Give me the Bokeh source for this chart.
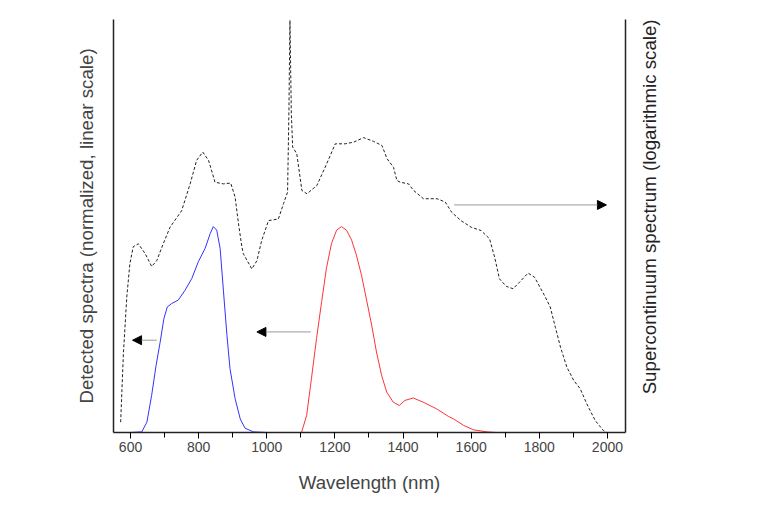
import math
from bokeh.plotting import figure
from bokeh.layouts import row
from bokeh.models import (Range1d, LinearAxis, SingleIntervalTicker, FixedTicker, Arrow,
                          NormalHead, Label)
from bokeh.embed import file_html
from bokeh.resources import INLINE

# Detected spectra (normalized, linear)
wl_blue = [600, 633, 648, 662, 675, 687, 698, 708, 721, 740, 760, 780, 799, 819, 834, 843,
           853, 863, 873, 883, 892, 907, 922, 936, 961, 1000]
val_blue = [0, 0.003, 0.05, 0.18, 0.325, 0.438, 0.552, 0.608, 0.625, 0.641, 0.689, 0.746,
            0.827, 0.892, 0.964, 0.997, 0.98, 0.892, 0.681, 0.471, 0.309, 0.164, 0.066,
            0.021, 0.003, 0]

wl_red = [1070, 1102, 1117, 1131, 1146, 1161, 1175, 1190, 1205, 1219, 1234, 1249, 1263,
          1278, 1293, 1308, 1322, 1337, 1352, 1371, 1389, 1405, 1430, 1459, 1498, 1533,
          1548, 1578, 1607, 1646, 1675, 1790]
val_red = [0, 0, 0.083, 0.26, 0.455, 0.633, 0.795, 0.916, 0.98, 0.997, 0.98, 0.932, 0.859,
           0.762, 0.641, 0.519, 0.39, 0.277, 0.196, 0.147, 0.131, 0.155, 0.167, 0.147,
           0.115, 0.078, 0.066, 0.034, 0.013, 0.003, 0, 0]

# Supercontinuum spectrum (relative level, log scale display)
wl_sc = [571, 579, 589, 598, 608, 623, 643, 662, 677, 696, 716, 750, 775, 794, 812, 829,
         848, 873, 894, 907, 917, 927, 931, 956, 971, 985, 1005, 1034, 1049, 1061, 1065,
         1068, 1072, 1076, 1088, 1103, 1118, 1147, 1176, 1201, 1230, 1255, 1284, 1313,
         1338, 1353, 1372, 1382, 1392, 1416, 1431, 1460, 1500, 1524, 1543, 1570, 1600,
         1629, 1654, 1669, 1683, 1703, 1723, 1742, 1767, 1786, 1815, 1832, 1847, 1862,
         1881, 1901, 1920, 1939, 1964, 1988, 1997]
val_sc = [0.025, 0.19, 0.328, 0.408, 0.45, 0.457, 0.433, 0.402, 0.416, 0.457, 0.497, 0.537,
          0.602, 0.659, 0.679, 0.659, 0.606, 0.602, 0.604, 0.57, 0.505, 0.449, 0.433, 0.396,
          0.416, 0.465, 0.513, 0.517, 0.554, 0.582, 0.78, 0.998, 0.772, 0.691, 0.675, 0.586,
          0.578, 0.598, 0.651, 0.699, 0.699, 0.703, 0.714, 0.705, 0.695, 0.663, 0.642, 0.61,
          0.606, 0.602, 0.586, 0.566, 0.566, 0.558, 0.533, 0.513, 0.497, 0.489, 0.469, 0.424,
          0.372, 0.354, 0.348, 0.364, 0.386, 0.376, 0.332, 0.304, 0.255, 0.207, 0.158, 0.126,
          0.106, 0.07, 0.029, 0.005, 0.001]

x_tick_step = 200

FONT = "Liberation Sans"
H = 497
W1 = 630

p = figure(width=W1, height=H, output_backend="svg", toolbar_location=None,
           x_range=Range1d(550, 2053), y_range=Range1d(0, 2.0),
           min_border_left=113, min_border_right=W1 - 625, min_border_top=19,
           min_border_bottom=65)
p.outline_line_color = None
p.grid.visible = False
p.extra_y_ranges = {"sc": Range1d(0, 1)}

xa = p.xaxis[0]
xa.ticker = SingleIntervalTicker(interval=x_tick_step, num_minor_ticks=2)
xa.axis_label = "Wavelength (nm)"
xa.axis_label_text_font = FONT
xa.axis_label_text_font_size = "18.7px"
xa.axis_label_text_font_style = "normal"
xa.axis_label_standoff = 17
xa.major_label_text_font = FONT
xa.major_label_text_font_size = "14px"
xa.major_label_standoff = 3
xa.major_tick_out = 6
xa.major_tick_in = 0
xa.minor_tick_out = 5
xa.minor_tick_in = 0
xa.axis_line_width = 1.5
xa.axis_line_color = "#222222"

ya = p.yaxis[0]
ya.ticker = FixedTicker(ticks=[])
ya.major_tick_out = 0
ya.major_tick_in = 0
ya.minor_tick_out = 0
ya.axis_label = "Detected spectra (normalized, linear scale)"
ya.axis_label_text_font = FONT
ya.axis_label_text_font_size = "18.7px"
ya.axis_label_text_font_style = "normal"
ya.axis_label_standoff = 17
ya.axis_line_width = 1.5
ya.axis_line_color = "#222222"

ra = LinearAxis(y_range_name="sc", ticker=FixedTicker(ticks=[]))
ra.major_tick_out = 0
ra.major_tick_in = 0
ra.minor_tick_out = 0
ra.axis_line_width = 1.5
ra.axis_line_color = "#222222"
p.add_layout(ra, "right")

p.line(wl_sc, val_sc, y_range_name="sc", line_color="#222222", line_width=1, line_dash="3 2")
p.line(wl_blue, val_blue, line_color="#3333ff", line_width=1)
p.line(wl_red, val_red, line_color="#ff3333", line_width=1)

p.add_layout(Arrow(end=NormalHead(size=9, fill_color="black", line_color="black"),
                   x_start=677, y_start=0.447, x_end=606, y_end=0.447,
                   line_color="#999999", line_width=1))
p.add_layout(Arrow(end=NormalHead(size=9, fill_color="black", line_color="black"),
                   x_start=1129, y_start=0.487, x_end=971, y_end=0.487,
                   line_color="#999999", line_width=1))
p.add_layout(Arrow(end=NormalHead(size=9, fill_color="black", line_color="black"),
                   x_start=1550, y_start=0.551, x_end=1997, y_end=0.551,
                   y_range_name="sc", line_color="#999999", line_width=1))

# Right-hand axis title (reads bottom-to-top), in a narrow companion panel
W2 = 764 - W1
p2 = figure(width=W2, height=H, output_backend="svg", toolbar_location=None,
            x_range=Range1d(0, W2), y_range=Range1d(0, H), min_border=0)
p2.outline_line_color = None
p2.grid.visible = False
p2.xaxis.visible = False
p2.yaxis.visible = False
p2.add_layout(Label(x=649 - W1, y=H - 225.5, angle=math.pi / 2,
                    text="Supercontinuum spectrum (logarithmic scale)",
                    text_font=FONT, text_font_size="18.7px", text_color="#222222",
                    text_align="center", text_baseline="middle"))

layout = row(p, p2)
open("out.html", "w").write(file_html(layout, INLINE))
